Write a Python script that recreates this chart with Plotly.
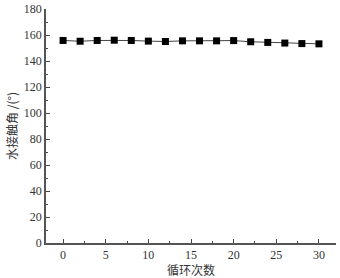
import plotly.graph_objects as go

cycles = [0, 2, 4, 6, 8, 10, 12, 14, 16, 18, 20, 22, 24, 26, 28, 30]
contact_angle = [155.8, 155.2, 155.8, 156.0, 155.8, 155.3, 155.0, 155.5,
                 155.5, 155.5, 155.7, 154.8, 154.3, 153.8, 153.4, 153.2]
x_ticks = [0, 5, 10, 15, 20, 25, 30]
y_ticks = [0, 20, 40, 60, 80, 100, 120, 140, 160, 180]

fig = go.Figure()
fig.add_trace(go.Scatter(
    x=cycles, y=contact_angle, mode="lines+markers",
    line=dict(color="#444444", width=1),
    marker=dict(symbol="square", size=7, color="black"),
    showlegend=False,
))

tickfont = dict(family="Liberation Serif, Times New Roman, serif", size=12, color="#333")
cjk = dict(family="Noto Sans CJK SC", size=12, color="#333")
fig.update_layout(
    width=340, height=278,
    margin=dict(l=46, r=4, t=9, b=35),
    paper_bgcolor="white", plot_bgcolor="white",
    font=tickfont,
)
fig.update_xaxes(
    range=[-2, 32], tickvals=x_ticks, ticks="inside", ticklen=4, tickwidth=1,
    tickcolor="#444", showline=True, linecolor="#555", linewidth=1.5,
    showgrid=False, zeroline=False, tickfont=tickfont, automargin=False,
    minor=dict(dtick=2.5, tick0=0, ticks="inside", ticklen=2, tickcolor="#444", showgrid=False),
    title=dict(text="循环次数", font=cjk, standoff=0),
)
fig.update_yaxes(
    range=[0, 180], tickvals=y_ticks, ticks="inside", ticklen=4, tickwidth=1,
    tickcolor="#444", showline=True, linecolor="#555", linewidth=1.5,
    showgrid=False, zeroline=False, tickfont=tickfont, automargin=False,
    minor=dict(dtick=10, tick0=0, ticks="inside", ticklen=2, tickcolor="#444", showgrid=False),
    title=dict(text="水接触角 /(°)", font=cjk, standoff=4),
)
fig.write_html("out.html", config={"displayModeBar": False},
               post_script="document.body.style.margin='0';")
